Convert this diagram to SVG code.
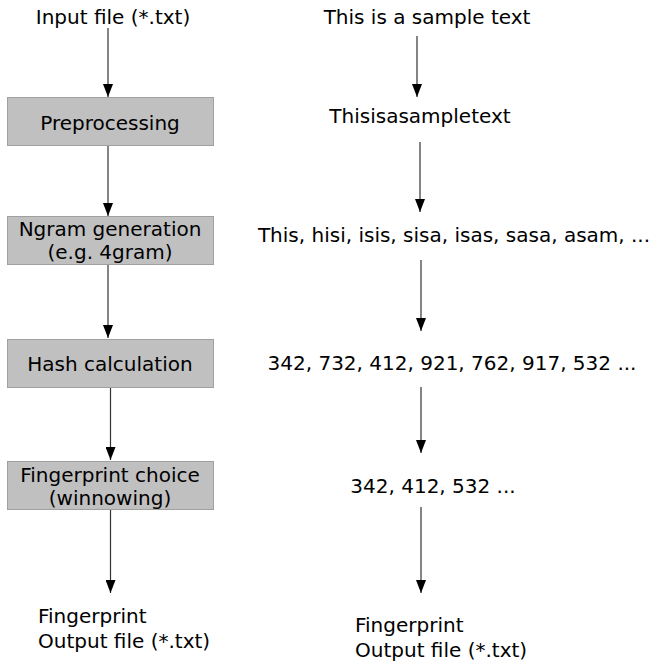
<svg xmlns="http://www.w3.org/2000/svg" width="650" height="661" viewBox="0 0 650 661">
<defs>
<marker id="ah" viewBox="0 0 13 10" markerWidth="13" markerHeight="10" refX="13" refY="5" orient="auto" markerUnits="userSpaceOnUse">
<path d="M0,0 L13,5 L0,10 z" fill="#000"/>
</marker>
</defs>
<style>
text{font-family:"DejaVu Sans",Verdana,sans-serif;font-size:20px;fill:#000}
.c{text-anchor:middle}
.box{fill:#c0c0c0;stroke:#a0a0a0;stroke-width:1}
.ed line{stroke:#333;stroke-width:1.2;marker-end:url(#ah)}
</style>
<rect width="650" height="661" fill="#fff"/>
<g class="ed" id="connectors">
<line x1="108" y1="28" x2="108" y2="97"/>
<line x1="108" y1="146" x2="108" y2="216"/>
<line x1="108" y1="265" x2="108" y2="338"/>
<line x1="110.5" y1="388" x2="110.5" y2="460"/>
<line x1="110.5" y1="509" x2="110.5" y2="593"/>
<line x1="417" y1="36" x2="417" y2="97"/>
<line x1="420" y1="142" x2="420" y2="212"/>
<line x1="421" y1="260" x2="421" y2="331"/>
<line x1="421" y1="387" x2="421" y2="453"/>
<line x1="421" y1="507" x2="421" y2="593"/>
</g>
<g id="input"><text class="c" x="113" y="24">Input file (*.txt)</text></g>
<g id="preprocessing"><rect class="box" x="7.5" y="97.5" width="206" height="48"/><text class="c" x="110" y="130">Preprocessing</text></g>
<g id="ngram"><rect class="box" x="7.5" y="216.5" width="206" height="48"/><text class="c" x="110" y="236">Ngram generation</text><text class="c" x="110" y="259">(e.g. 4gram)</text></g>
<g id="hash"><rect class="box" x="7.5" y="339.5" width="206" height="48"/><text class="c" x="110" y="371">Hash calculation</text></g>
<g id="fingerprint"><rect class="box" x="7.5" y="461.5" width="206" height="48"/><text class="c" x="110" y="482">Fingerprint choice</text><text class="c" x="110" y="505">(winnowing)</text></g>
<g id="output-left"><text x="38" y="623">Fingerprint</text><text x="38" y="648">Output file (*.txt)</text></g>
<g id="sample"><text class="c" x="427" y="24">This is a sample text</text></g>
<g id="joined"><text class="c" x="420" y="123">Thisisasampletext</text></g>
<g id="ngrams"><text class="c" x="454" y="242">This, hisi, isis, sisa, isas, sasa, asam, ...</text></g>
<g id="hashes"><text class="c" x="452" y="370">342, 732, 412, 921, 762, 917, 532 ...</text></g>
<g id="chosen"><text class="c" x="433" y="493">342, 412, 532 ...</text></g>
<g id="output-right"><text x="355" y="632">Fingerprint</text><text x="355" y="657">Output file (*.txt)</text></g>
</svg>
